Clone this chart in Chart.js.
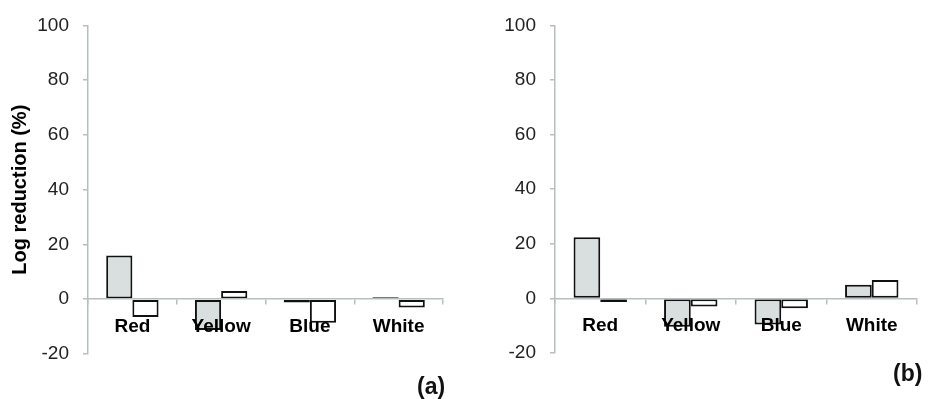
<!DOCTYPE html>
<html><head><meta charset="utf-8">
<script src="https://cdn.jsdelivr.net/npm/chart.js@4"></script>
<style>
html,body{margin:0;padding:0;background:#fff;width:929px;height:399px;overflow:hidden;}
.box{position:absolute;top:0;height:399px;}
.lbl{position:absolute;font:bold 23px "Liberation Sans",Arial,sans-serif;line-height:1;color:#111;}
</style></head><body>
<div class="box" style="left:0;width:464px"><canvas id="ca" width="464" height="399"></canvas></div>
<div class="box" style="left:464px;width:465px"><canvas id="cb" width="465" height="399"></canvas></div>
<div class="lbl" style="left:417px;top:375px">(a)</div>
<div class="lbl" style="left:893px;top:362px">(b)</div>
<script>
const categories = ['Red', 'Yellow', 'Blue', 'White'];
const yTicks = [-20, 0, 20, 40, 60, 80, 100];
const panelAGrey = [16, -11.2, -1.2, 0.7];
const panelAWhite = [-6.5, 3.0, -8.6, -3.0];
const panelBGrey = [22.4, -10.4, -9.6, 5.0];
const panelBWhite = [-1.3, -3.0, -3.6, 6.7];
const yTitle = 'Log reduction (%)';

const FONT = '"Liberation Sans", Arial, sans-serif';
const AXIS = '#b5bfbf';

function makeChart(id, grey, white, opts) {
  return new Chart(document.getElementById(id), {
    type: 'bar',
    data: {
      labels: categories,
      datasets: [
        { data: grey, backgroundColor: '#d9dfdf', borderColor: '#111', borderWidth: 2, borderSkipped: false },
        { data: white, backgroundColor: '#ffffff', borderColor: '#111', borderWidth: 2, borderSkipped: false }
      ]
    },
    options: {
      responsive: false,
      animation: false,
      layout: { padding: opts.padding },
      plugins: { legend: { display: false }, tooltip: { enabled: false } },
      datasets: { bar: { categoryPercentage: 0.59, barPercentage: 1.0 } },
      scales: {
        x: {
          type: 'category',
          position: { y: 0 },
          afterFit: s => { s.height = 0; },
          grid: { display: true, drawOnChartArea: false, drawTicks: true, tickLength: 5, color: AXIS, lineWidth: 1.5, offset: true },
          border: { display: true, color: AXIS, width: 1.5, z: 1 },
          ticks: { color: '#000', font: { family: FONT, size: 19, weight: 'bold' }, padding: 11, maxRotation: 0, z: 2 }
        },
        y: {
          min: -20, max: 100,
          afterFit: s => { s.width = opts.yWidth; },
          afterBuildTicks: s => { s.ticks = yTicks.map(v => ({ value: v })); },
          grid: { display: true, drawOnChartArea: false, drawTicks: true, tickLength: 5, color: AXIS, lineWidth: 1.5 },
          border: { display: true, color: AXIS, width: 1.5 },
          ticks: { color: '#222', font: { family: FONT, size: 19 }, padding: 14 },
          title: { display: opts.showTitle, text: yTitle, color: '#000', font: { family: FONT, size: 20, weight: 'bold' }, padding: { top: 8, bottom: 0 } }
        }
      }
    }
  });
}

makeChart('ca', panelAGrey, panelAWhite, { padding: { left: 0, right: 21, top: 22, bottom: 45 }, yWidth: 88, showTitle: true });
makeChart('cb', panelBGrey, panelBWhite, { padding: { left: 0, right: 12, top: 23, bottom: 46 }, yWidth: 91, showTitle: false });
</script>
</body></html>
